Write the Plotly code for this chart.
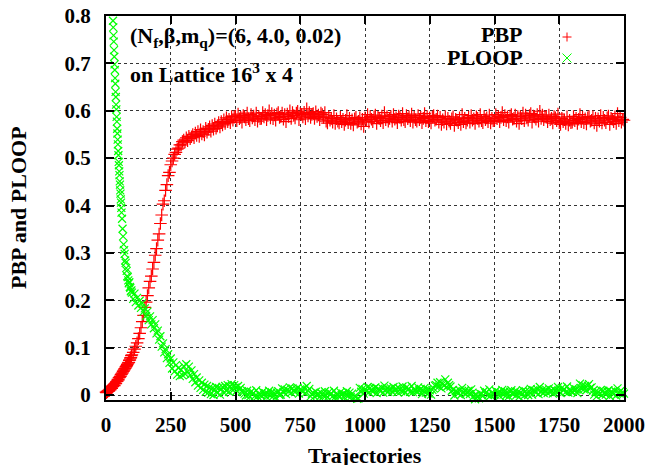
import plotly.graph_objects as go

# Monte Carlo history: chiral condensate (PBP) and Polyakov loop (PLOOP)
# measured along the trajectories of the run.

pbp_traj = list(range(0, 100, 2)) + list(range(100, 500, 5)) + list(range(500, 2001, 5))
pbp = [
    # 0 .. 98 (step 2)
    0.006, 0.005, 0.008, 0.007, 0.009, 0.010, 0.009, 0.012, 0.011, 0.014,
    0.015, 0.014, 0.017, 0.018, 0.020, 0.021, 0.020, 0.024, 0.025, 0.024,
    0.028, 0.029, 0.030, 0.033, 0.032, 0.036, 0.037, 0.039, 0.040, 0.043,
    0.044, 0.046, 0.047, 0.050, 0.051, 0.053, 0.055, 0.056, 0.059, 0.060,
    0.062, 0.064, 0.066, 0.068, 0.069, 0.073, 0.074, 0.078, 0.079, 0.083,
    # 100 .. 495 (step 5)
    0.085, 0.090, 0.097, 0.103, 0.110, 0.119, 0.130, 0.142, 0.155, 0.168,
    0.185, 0.196, 0.210, 0.226, 0.240, 0.251, 0.266, 0.280, 0.295, 0.309,
    0.327, 0.340, 0.362, 0.380, 0.403, 0.410, 0.432, 0.444, 0.463, 0.470,
    0.486, 0.494, 0.500, 0.508, 0.512, 0.519, 0.521, 0.528, 0.528, 0.535,
    0.538, 0.534, 0.543, 0.537, 0.546, 0.541, 0.545, 0.550, 0.543, 0.553,
    0.548, 0.556, 0.546, 0.560, 0.551, 0.556, 0.549, 0.563, 0.555, 0.561,
    0.566, 0.557, 0.569, 0.561, 0.572, 0.563, 0.568, 0.575, 0.566, 0.577,
    0.570, 0.581, 0.573, 0.585, 0.577, 0.582, 0.575, 0.588, 0.580, 0.587,
    # 500 .. 2000 (step 5)
    0.589, 0.579, 0.593, 0.583, 0.586, 0.576, 0.590, 0.587, 0.581, 0.595,
    0.583, 0.579, 0.592, 0.585, 0.589, 0.581, 0.595, 0.578, 0.588, 0.583,
    0.584, 0.596, 0.587, 0.592, 0.581, 0.590, 0.600, 0.585, 0.594, 0.583,
    0.591, 0.580, 0.593, 0.596, 0.586, 0.588, 0.595, 0.582, 0.592, 0.577,
    0.593, 0.588, 0.600, 0.584, 0.596, 0.590, 0.585, 0.595, 0.599, 0.581,
    0.594, 0.592, 0.587, 0.597, 0.583, 0.604, 0.589, 0.596, 0.586, 0.592,
    0.594, 0.584, 0.598, 0.588, 0.591, 0.581, 0.595, 0.592, 0.586, 0.596,
    0.578, 0.574, 0.587, 0.580, 0.584, 0.576, 0.590, 0.573, 0.583, 0.578,
    0.574, 0.586, 0.577, 0.582, 0.571, 0.580, 0.590, 0.575, 0.584, 0.573,
    0.581, 0.570, 0.583, 0.586, 0.576, 0.578, 0.585, 0.572, 0.582, 0.567,
    0.585, 0.580, 0.592, 0.576, 0.588, 0.582, 0.577, 0.587, 0.591, 0.573,
    0.586, 0.584, 0.579, 0.589, 0.575, 0.596, 0.581, 0.588, 0.578, 0.584,
    0.588, 0.578, 0.592, 0.582, 0.585, 0.575, 0.589, 0.586, 0.580, 0.594,
    0.581, 0.577, 0.590, 0.583, 0.587, 0.579, 0.593, 0.576, 0.586, 0.581,
    0.578, 0.590, 0.581, 0.586, 0.575, 0.584, 0.594, 0.579, 0.588, 0.577,
    0.585, 0.574, 0.587, 0.590, 0.580, 0.582, 0.589, 0.576, 0.586, 0.571,
    0.581, 0.576, 0.588, 0.572, 0.584, 0.578, 0.573, 0.583, 0.587, 0.569,
    0.582, 0.580, 0.575, 0.585, 0.571, 0.592, 0.577, 0.584, 0.574, 0.580,
    0.586, 0.576, 0.590, 0.580, 0.583, 0.573, 0.587, 0.584, 0.578, 0.592,
    0.579, 0.575, 0.588, 0.581, 0.585, 0.577, 0.591, 0.574, 0.584, 0.579,
    0.580, 0.592, 0.583, 0.588, 0.577, 0.586, 0.596, 0.581, 0.590, 0.579,
    0.587, 0.576, 0.589, 0.592, 0.582, 0.584, 0.591, 0.578, 0.588, 0.573,
    0.588, 0.583, 0.595, 0.579, 0.591, 0.585, 0.580, 0.590, 0.594, 0.576,
    0.589, 0.587, 0.582, 0.592, 0.578, 0.599, 0.584, 0.591, 0.581, 0.587,
    0.587, 0.577, 0.591, 0.581, 0.584, 0.574, 0.588, 0.585, 0.579, 0.593,
    0.575, 0.571, 0.584, 0.577, 0.581, 0.573, 0.587, 0.570, 0.580, 0.575,
    0.576, 0.588, 0.579, 0.584, 0.573, 0.582, 0.592, 0.577, 0.586, 0.575,
    0.583, 0.572, 0.585, 0.588, 0.578, 0.580, 0.587, 0.574, 0.584, 0.569,
    0.583, 0.578, 0.590, 0.574, 0.586, 0.580, 0.575, 0.585, 0.589, 0.571,
    0.584, 0.582, 0.577, 0.587, 0.573, 0.594, 0.579, 0.586, 0.576, 0.582,
    0.580,
]

ploop_traj = (list(range(27, 60)) + list(range(60, 100, 2))
              + list(range(100, 500, 5)) + list(range(500, 2001, 5)))
ploop = [
    # 27 .. 59 (every trajectory)
    0.790, 0.776, 0.759, 0.746, 0.728, 0.714, 0.698, 0.686, 0.669, 0.657,
    0.640, 0.629, 0.613, 0.603, 0.587, 0.577, 0.562, 0.552, 0.539, 0.529,
    0.515, 0.506, 0.492, 0.485, 0.472, 0.464, 0.451, 0.444, 0.432, 0.425,
    0.413, 0.406, 0.395,
    # 60 .. 98 (step 2)
    0.385, 0.372, 0.351, 0.335, 0.318, 0.306, 0.298, 0.284, 0.279, 0.268,
    0.262, 0.251, 0.249, 0.242, 0.236, 0.238, 0.228, 0.226, 0.219, 0.221,
    # 100 .. 495 (step 5)
    0.216, 0.203, 0.214, 0.196, 0.205, 0.189, 0.199, 0.184, 0.194, 0.176,
    0.183, 0.167, 0.176, 0.158, 0.166, 0.149, 0.158, 0.141, 0.149, 0.130,
    0.136, 0.117, 0.124, 0.102, 0.109, 0.090, 0.097, 0.078, 0.086, 0.068,
    0.077, 0.056, 0.069, 0.050, 0.063, 0.043, 0.057, 0.040, 0.053, 0.042,
    0.061, 0.045, 0.065, 0.049, 0.060, 0.042, 0.052, 0.034, 0.044, 0.027,
    0.037, 0.020, 0.031, 0.015, 0.026, 0.011, 0.022, 0.007, 0.019, 0.005,
    0.016, 0.002, 0.014, 0.000, 0.012, 0.017, 0.004, 0.015, 0.001, 0.013,
    0.017, 0.005, 0.019, 0.009, 0.021, 0.007, 0.018, 0.023, 0.010, 0.021,
    # 500 .. 2000 (step 5)
    0.016, 0.009, 0.019, 0.012, 0.015, 0.008, 0.006, 0.003, -0.001, 0.009,
    0.000, -0.004, 0.007, 0.002, 0.004, -0.002, 0.010, -0.003, 0.003, 0.000,
    -0.001, 0.007, 0.001, 0.004, -0.004, 0.003, 0.009, -0.001, 0.006, -0.003,
    0.004, -0.005, 0.005, 0.008, 0.000, 0.001, 0.014, 0.006, 0.012, 0.002,
    0.011, 0.008, 0.016, 0.005, 0.014, 0.009, 0.006, 0.013, 0.015, 0.003,
    0.012, 0.011, 0.007, 0.014, 0.004, 0.019, 0.009, 0.013, -0.003, 0.002,
    0.004, -0.003, 0.007, 0.000, 0.003, -0.004, 0.005, 0.002, -0.002, 0.008,
    -0.001, -0.005, 0.006, 0.001, 0.003, -0.003, 0.009, -0.004, 0.002, -0.001,
    -0.002, 0.006, 0.000, 0.003, -0.005, 0.002, 0.008, -0.002, 0.005, -0.004,
    0.003, -0.006, -0.003, -0.004, -0.008, -0.007, 0.015, 0.007, 0.013, 0.003,
    0.012, 0.009, 0.017, 0.006, 0.015, 0.010, 0.007, 0.014, 0.016, 0.004,
    0.013, 0.012, 0.008, 0.015, 0.005, 0.020, 0.010, 0.014, 0.007, 0.012,
    0.014, 0.007, 0.017, 0.010, 0.013, 0.006, 0.015, 0.012, 0.008, 0.018,
    0.009, 0.005, 0.016, 0.011, 0.013, 0.007, 0.019, 0.006, 0.012, 0.009,
    0.008, 0.016, 0.010, 0.013, 0.002, 0.009, 0.015, 0.005, 0.012, 0.003,
    0.010, 0.001, 0.011, 0.014, 0.020, 0.021, 0.026, 0.018, 0.027, 0.014,
    0.023, 0.020, 0.033, 0.017, 0.026, 0.021, 0.018, 0.009, 0.011, -0.001,
    0.008, 0.007, 0.003, 0.010, 0.000, 0.015, 0.005, 0.009, 0.002, 0.007,
    0.009, 0.002, 0.012, 0.005, -0.002, -0.009, 0.000, -0.003, -0.007, 0.003,
    0.002, -0.002, 0.009, 0.004, 0.006, 0.000, 0.012, -0.001, 0.005, 0.002,
    0.001, 0.009, 0.003, 0.006, -0.002, 0.005, 0.011, 0.001, 0.008, -0.001,
    0.006, -0.003, 0.007, 0.010, 0.002, 0.003, 0.008, 0.000, 0.006, -0.004,
    0.005, 0.002, 0.010, -0.001, 0.008, 0.003, 0.000, 0.007, 0.013, 0.001,
    0.010, 0.009, 0.005, 0.012, 0.002, 0.017, 0.007, 0.011, 0.004, 0.009,
    0.011, 0.004, 0.014, 0.007, 0.010, 0.003, 0.012, 0.009, 0.007, 0.017,
    0.008, 0.004, 0.015, 0.010, 0.012, 0.006, 0.018, 0.005, 0.011, 0.008,
    0.007, 0.015, 0.009, 0.012, 0.004, 0.011, 0.024, 0.014, 0.021, 0.012,
    0.019, 0.010, 0.020, 0.023, 0.015, 0.016, 0.009, 0.001, 0.007, -0.003,
    0.006, 0.003, 0.011, 0.000, 0.009, 0.004, 0.001, 0.008, 0.010, -0.002,
    0.007, 0.006, 0.002, 0.009, -0.001, 0.014, 0.004, 0.008, 0.001, 0.006,
    0.003,
]

assert len(pbp) == len(pbp_traj), (len(pbp), len(pbp_traj))
assert len(ploop) == len(ploop_traj), (len(ploop), len(ploop_traj))

x_ticks = [0, 250, 500, 750, 1000, 1250, 1500, 1750, 2000]
y_ticks = [0, 0.1, 0.2, 0.3, 0.4, 0.5, 0.6, 0.7, 0.8]
X_RANGE = [0, 2000]
Y_RANGE = [-0.0105, 0.8]

RED = "#ff0000"
GREEN = "#00ff00"
FONT = "Liberation Serif, Times New Roman, DejaVu Serif, serif"

# plot area geometry (pixels)
W, H = 650, 465
ML, MR, MT, MB = 106, 26, 16, 65
PW, PH = W - ML - MR, H - MT - MB


def px_to_paper(px, py):
    return (px - ML) / PW, (H - MB - py) / PH


fig = go.Figure()
fig.add_trace(go.Scatter(
    x=pbp_traj, y=pbp, mode="markers", name="PBP", cliponaxis=False,
    marker=dict(symbol="cross-thin", size=9, line=dict(color=RED, width=1.2)),
    showlegend=False,
))
fig.add_trace(go.Scatter(
    x=ploop_traj, y=ploop, mode="markers", name="PLOOP", cliponaxis=False,
    marker=dict(symbol="x-thin", size=8, line=dict(color=GREEN, width=1.2)),
    showlegend=False,
))

tick_font = dict(family=FONT, size=21, color="black", weight="bold")
text_font = dict(family=FONT, size=22, color="black", weight="bold")
axis_common = dict(
    showline=True, linecolor="black", linewidth=2, mirror="allticks",
    ticks="inside", ticklen=8, tickwidth=1.5, tickcolor="black",
    showgrid=True, gridcolor="#333333", gridwidth=1, griddash="dot",
    zeroline=False, tickfont=tick_font, automargin=False,
)

fig.update_xaxes(range=X_RANGE, tickvals=x_ticks, ticklabelstandoff=5, **axis_common)
fig.update_yaxes(range=Y_RANGE, tickvals=y_ticks, ticklabelstandoff=9, **axis_common)

# opaque key box
kx0, ky1 = px_to_paper(447, 26)
kx1, ky0 = px_to_paper(612, 66)
shapes = [dict(type="rect", xref="paper", yref="paper", x0=kx0, x1=kx1, y0=ky0, y1=ky1,
               fillcolor="white", line=dict(width=0), layer="between")]


def glyph(cx, cy, kind, color, half=4.5):
    if kind == "+":
        segs = [((cx - half, cy), (cx + half, cy)), ((cx, cy - half), (cx, cy + half))]
    else:
        segs = [((cx - half, cy - half), (cx + half, cy + half)),
                ((cx - half, cy + half), (cx + half, cy - half))]
    out = []
    for (a, b) in segs:
        x0, y0 = px_to_paper(*a)
        x1, y1 = px_to_paper(*b)
        out.append(dict(type="line", xref="paper", yref="paper", x0=x0, y0=y0, x1=x1, y1=y1,
                        line=dict(color=color, width=1)))
    return out


shapes += glyph(567, 37, "+", RED)
shapes += glyph(567, 58, "x", GREEN)

annotations = []


def add_text(text, px, py, xanchor, yanchor, angle=0):
    x, y = px_to_paper(px, py)
    annotations.append(dict(text=text, xref="paper", yref="paper", x=x, y=y,
                            xanchor=xanchor, yanchor=yanchor, textangle=angle,
                            showarrow=False, font=text_font))


# axis titles
add_text("Trajectories", ML + PW / 2, 455, "center", "middle")
add_text("PBP and PLOOP", 18, MT + PH / 2, "center", "middle", angle=-90)
# run parameters
add_text("(N<sub>f</sub>,β,m<sub>q</sub>)=(6, 4.0, 0.02)", 128, 21, "left", "top")
add_text("on Lattice 16<sup>3</sup> x 4", 128, 57, "left", "top")
# key labels
add_text("PBP", 525, 35, "right", "middle")
add_text("PLOOP", 525, 57, "right", "middle")

fig.update_layout(
    width=W, height=H,
    margin=dict(l=ML, r=MR, t=MT, b=MB),
    paper_bgcolor="white", plot_bgcolor="white",
    shapes=shapes, annotations=annotations,
    showlegend=False,
)

fig.write_html("out.html")
